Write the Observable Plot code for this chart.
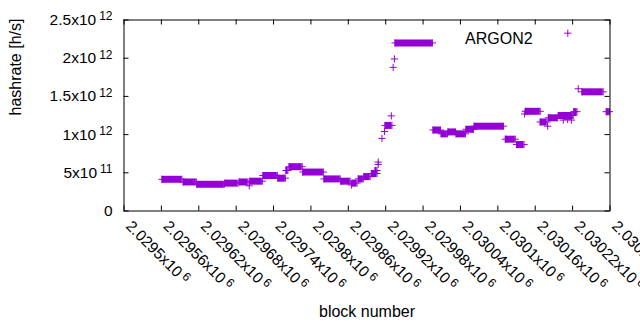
<!DOCTYPE html>
<html><head><meta charset="utf-8">
<script src="https://cdn.jsdelivr.net/npm/d3@7"></script>
<script src="https://cdn.jsdelivr.net/npm/@observablehq/plot@0.6"></script>
<style>
html,body{margin:0;padding:0;background:#fff;}
#chart svg{display:block;}
</style>
</head><body><div id="chart"></div>
<script>
// runs of blocks with (nearly) the same hashrate: first block, last block, value [h/s]
const runStart = [2029561, 2029595, 2029617, 2029662, 2029685, 2029701, 2029702, 2029723, 2029747, 2029760, 2029765, 2029787, 2029821, 2029848, 2029865, 2029866, 2029876, 2029885, 2029897, 2029903, 2029908, 2029908, 2029914, 2029918, 2029919, 2029929, 2029932, 2029934, 2029935, 2029996, 2030009, 2030020, 2030033, 2030049, 2030062, 2030112, 2030130, 2030143, 2030144, 2030168, 2030180, 2030181, 2030197, 2030205, 2030212, 2030218, 2030222, 2030229, 2030235, 2030274];
const runEnd = [2029593, 2029616, 2029661, 2029683, 2029699, 2029701, 2029722, 2029746, 2029759, 2029763, 2029786, 2029820, 2029847, 2029863, 2029865, 2029874, 2029884, 2029895, 2029906, 2029906, 2029908, 2029908, 2029914, 2029918, 2029930, 2029929, 2029932, 2029934, 2029995, 2030008, 2030019, 2030032, 2030048, 2030061, 2030109, 2030128, 2030142, 2030143, 2030168, 2030179, 2030180, 2030196, 2030221, 2030205, 2030212, 2030218, 2030227, 2030229, 2030269, 2030279];
const runValue = [4.15e11, 3.8e11, 3.5e11, 3.65e11, 3.8e11, 3.3e11, 3.9e11, 4.65e11, 4.3e11, 5.3e11, 5.8e11, 5.1e11, 4.2e11, 3.9e11, 3.4e11, 3.65e11, 4.2e11, 4.5e11, 4.9e11, 5.3e11, 6.4e11, 6.1e11, 9.5e11, 1.04e12, 1.12e12, 1.245e12, 1.88e12, 1.99e12, 2.2e12, 1.06e12, 1.01e12, 1.035e12, 1.01e12, 1.07e12, 1.11e12, 9.4e11, 8.7e11, 1.27e12, 1.305e12, 1.165e12, 1.11e12, 1.22e12, 1.25e12, 1.19e12, 1.2e12, 1.19e12, 1.3e12, 1.6e12, 1.56e12, 1.3e12];

const xDomain = [2029500, 2030280];
const xTicks = [2029500, 2029560, 2029620, 2029680, 2029740, 2029800, 2029860, 2029920, 2029980, 2030040, 2030100, 2030160, 2030220, 2030280];
const xTickLabels = ["2.0295x10^6", "2.02956x10^6", "2.02962x10^6", "2.02968x10^6", "2.02974x10^6", "2.0298x10^6", "2.02986x10^6", "2.02992x10^6", "2.02998x10^6", "2.03004x10^6", "2.0301x10^6", "2.03016x10^6", "2.03022x10^6", "2.03028x10^6"];
const yDomain = [0, 2.5e12];
const yTicks = [0, 5e11, 1e12, 1.5e12, 2e12, 2.5e12];
const yTickLabels = ["0", "5x10^11", "1x10^12", "1.5x10^12", "2x10^12", "2.5x10^12"];
const seriesName = "ARGON2";
const xLabel = "block number";
const yLabel = "hashrate [h/s]";

const color = "#9400d3";
const W = 640, H = 330, mL = 123.5, mR = 30.5, mT = 19.5, mB = 119.5;
const fw = W - mL - mR, fh = H - mT - mB, tick = 5, plusR = 2.45;

const runs = runStart.map((s, i) => ({start: s, end: runEnd[i], value: runValue[i]}));
const ends = runs.flatMap(r => r.start === r.end ? [{block: r.start, value: r.value}]
  : [{block: r.start, value: r.value}, {block: r.end, value: r.value}]);

const chart = Plot.plot({
  width: W, height: H,
  marginLeft: mL, marginRight: mR, marginTop: mT, marginBottom: mB,
  style: {fontFamily: "'Liberation Sans', Arial, sans-serif", fontSize: "15.5px", background: "#fff", color: "#000"},
  x: {domain: xDomain, axis: null},
  y: {domain: yDomain, axis: null},
  marks: [
    Plot.ruleY(runs, {y: "value", x1: "start", x2: "end", stroke: color, strokeWidth: 7}),
    Plot.dot(ends, {x: "block", y: "value", symbol: "plus", r: plusR, stroke: color, fill: "none", strokeWidth: 1}),
    Plot.tickX(xTicks, {x: d => d, insetTop: fh - tick, stroke: "#000"}),
    Plot.tickX(xTicks, {x: d => d, insetBottom: fh - tick, stroke: "#000"}),
    Plot.tickY(yTicks, {y: d => d, insetRight: fw - tick, stroke: "#000"}),
    Plot.tickY(yTicks, {y: d => d, insetLeft: fw - tick, stroke: "#000"}),
    Plot.frame({stroke: "#000", strokeWidth: 1}),
    Plot.text(yTicks, {y: d => d, text: (d, i) => yTickLabels[i], frameAnchor: "left", textAnchor: "end", dx: -11.5, fontSize: 15.5}),
    Plot.text(xTicks, {x: d => d, text: (d, i) => xTickLabels[i], frameAnchor: "bottom", textAnchor: "start", rotate: 45, dx: 1, dy: 16, fontSize: 15.5}),
    Plot.text([xLabel], {text: d => d, frameAnchor: "bottom", dy: 105.6, fontSize: 16}),
    Plot.text([yLabel], {text: d => d, frameAnchor: "left", dx: -108.5, rotate: -90, fontSize: 16}),
    Plot.text([seriesName], {text: d => d, frameAnchor: "top-right", textAnchor: "end", dx: -77.3, dy: 12.7, fontSize: 16}),
    Plot.dot([seriesName], {x: null, y: null, frameAnchor: "top-right", dx: -42.2, dy: 13.2, symbol: "plus", r: plusR, stroke: color, fill: "none", strokeWidth: 1})
  ]
});

// gnuplot-style superscript exponents
chart.querySelectorAll("text").forEach(t => {
  const s = t.textContent;
  const k = s.indexOf("^");
  if (k < 0) return;
  t.textContent = s.slice(0, k);
  const ts = document.createElementNS("http://www.w3.org/2000/svg", "tspan");
  ts.setAttribute("dx", "3");
  ts.setAttribute("dy", "-4.5");
  ts.setAttribute("font-size", "12");
  ts.textContent = s.slice(k + 1);
  t.appendChild(ts);
});

document.getElementById("chart").appendChild(chart);
</script>
</body></html>
